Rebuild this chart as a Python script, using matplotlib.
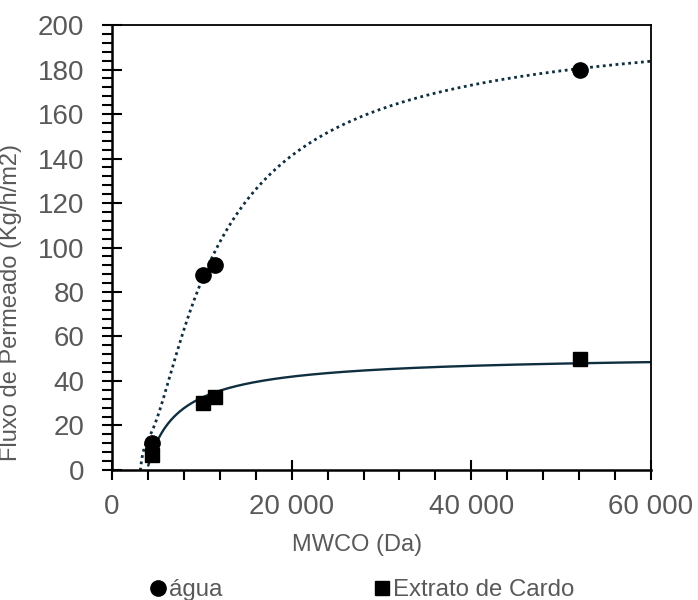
import numpy as np
import matplotlib
matplotlib.use("Agg")
import matplotlib.pyplot as plt
from matplotlib.ticker import MultipleLocator, FuncFormatter

plt.rcParams['font.family'] = ['Liberation Sans', 'DejaVu Sans']

# measured points
mwco_agua = [4450, 10100, 11500, 52100]
fluxo_agua = [12.0, 87.5, 92.3, 180.0]
mwco_cardo = [4450, 10150, 11470, 52100]
fluxo_cardo = [6.7, 30.2, 33.0, 49.7]

# trend lines
trend_agua_x = [3150, 4230, 5340, 6450, 7570, 8680, 9610, 11280, 12760, 14250,
                15730, 17220, 19070, 20930, 22780, 24630, 26860, 29460, 32050,
                37250, 44670, 52090, 60000]
trend_agua_y = [0.0, 13.5, 30.0, 44.2, 56.9, 69.7, 79.4, 95.9, 107.1, 116.9,
                124.6, 131.8, 139.3, 145.6, 150.6, 154.3, 157.8, 161.5, 164.8,
                170.0, 175.3, 179.8, 183.3]
trend_cardo_x = [4040, 4790, 5710, 6830, 8310, 10540, 12760, 14990, 17950, 21660,
                 25380, 29080, 32050, 39470, 46890, 54310, 60000]
trend_cardo_y = [2.2, 10.5, 18.0, 24.0, 28.8, 32.9, 36.3, 38.7, 41.0, 43.0,
                 44.2, 45.1, 45.6, 46.7, 47.5, 48.0, 48.4]


def smooth(xs, ys, deg=4):
    # smooth the read-off trend points (polynomial in 1/x)
    xs = np.asarray(xs, float)
    c = np.polyfit(1.0 / xs, ys, deg)
    xx = np.linspace(xs.min(), xs.max(), 400)
    return xx, np.polyval(c, 1.0 / xx)


grey = '#595959'
line_col = '#0f2f40'

fig = plt.figure(figsize=(6.98, 6.0), dpi=100)
ax = fig.add_axes([0.1605, 0.2167, 0.7722, 0.7416])

ax.plot(*smooth(trend_agua_x, trend_agua_y), color=line_col, lw=2.0,
        linestyle=(0, (1, 1.3)), zorder=2)
ax.plot(*smooth(trend_cardo_x, trend_cardo_y), color=line_col, lw=1.7, zorder=2)

ax.plot(mwco_agua, fluxo_agua, 'o', color='black', ms=11, label='água', zorder=3)
ax.plot(mwco_cardo, fluxo_cardo, 's', color='black', ms=10,
        label='Extrato de Cardo', zorder=3)

ax.set_xlim(0, 60000)
ax.set_ylim(0, 200)
ax.xaxis.set_major_locator(MultipleLocator(20000))
ax.xaxis.set_minor_locator(MultipleLocator(4000))
ax.yaxis.set_major_locator(MultipleLocator(20))
ax.yaxis.set_minor_locator(MultipleLocator(4))
ax.xaxis.set_major_formatter(FuncFormatter(lambda v, p: f"{int(v):,}".replace(",", " ")))

for side in ['left', 'bottom']:
    ax.spines[side].set_linewidth(1.8)
for side in ['top', 'right']:
    ax.spines[side].set_linewidth(1.3)

ax.tick_params(which='major', direction='inout', length=14, width=1.5,
               labelsize=20, labelcolor=grey, color='black')
ax.tick_params(which='minor', direction='out', length=7, width=1.5, color='black')
ax.tick_params(axis='x', which='major', pad=10)
ax.tick_params(axis='y', which='major', pad=13)

ax.set_xlabel('MWCO (Da)', fontsize=17, color=grey)
ax.xaxis.set_label_coords(0.4545, -0.145)
ax.set_ylabel('Fluxo de Permeado (Kg/h/m2)', fontsize=17, color=grey)
ax.yaxis.set_label_coords(-0.167, 0.377)

fig.legend(loc='center', bbox_to_anchor=(0.52, 0.016), ncol=2, frameon=False,
           fontsize=17.3, labelcolor=grey, handlelength=0.6, handletextpad=0.15,
           columnspacing=6.35, borderaxespad=0)

fig.savefig('out.png', dpi=100)
